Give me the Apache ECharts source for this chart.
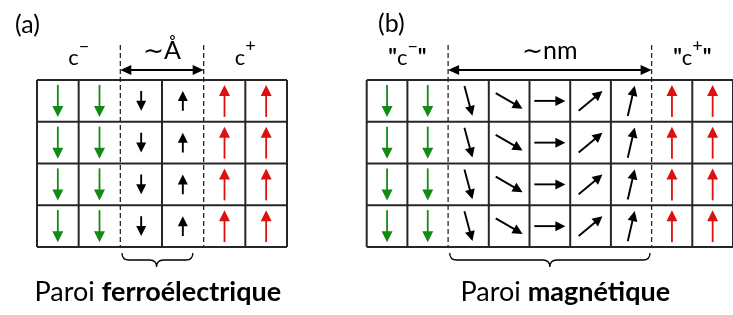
<!DOCTYPE html>
<html><head><meta charset="utf-8">
<script src="https://cdn.jsdelivr.net/npm/echarts@6/dist/echarts.min.js"></script>
<style>html,body{margin:0;padding:0;background:#fff}#c{width:733px;height:315px}</style>
</head><body><div id="c"></div>
<script>
// ---------------- data ----------------
const rowCount = 4;
// (a) ferroelectric wall
const panelADomains = ['minus','minus','wall','wall','plus','plus'];
const panelAAngles = [-90,-90,-90,90,90,90];          // direction of polarisation (deg, 90 = up)
const panelAMagnitudes = [1,1,0.62,0.62,1,1];          // relative length
const panelAWalls = [2,4];                             // column boundaries of the wall
const panelALabels = ['c⁻','∼Å','c⁺'];
const panelABrace = [2.04,3.74,2.87];                  // brace start, end, tip (in cells)
const panelACaptionAt = 2.9;                           // caption centre (in cells)
const panelATitle = '(a)';
const panelABottom = ['Paroi ','ferroélectrique'];
// (b) magnetic wall
const panelBDomains = ['minus','minus','wall','wall','wall','wall','wall','plus','plus'];
const panelBAngles = [-90,-90,-75,-30,0,40,77,90,90];  // direction of magnetisation
const panelBMagnitudes = [1,1,1,1,1,1,1,1,1];
const panelBWalls = [2,7];
const panelBLabels = ['"c⁻"','∼nm','"c⁺"'];
const panelBBrace = [2.04,6.96,4.5];
const panelBCaptionAt = 4.88;
const panelBTitle = '(b)';
const panelBBottom = ['Paroi ','magnétique'];

// ---------------- helpers ----------------
const FONT = 'Lato, "Open Sans", "DejaVu Sans", sans-serif';
const COLORS = {minus:'#138a13', plus:'#dd1010', wall:'#000000'};
const LINE = '#262626';
const mctx = document.createElement('canvas').getContext('2d');
function setFont(size, weight){ mctx.font = (weight||'normal')+' '+size+'px '+FONT; }
function textWidth(s,size,weight){ setFont(size,weight); return mctx.measureText(s).width; }
function midOffset(size,weight){
  setFont(size,weight); const m = mctx.measureText('x');
  if (m.fontBoundingBoxAscent!=null && m.fontBoundingBoxDescent!=null) return (m.fontBoundingBoxAscent-m.fontBoundingBoxDescent)/2;
  return size*0.36;
}
function txt(x, yBase, s, size, weight){
  return {type:'text', style:{x:x, y:yBase-midOffset(size,weight), text:s, fontSize:size, fontWeight:weight||'normal',
    fontFamily:FONT, fill:'#000', align:'left', verticalAlign:'middle', lineHeight:size}};
}
// lay out a label with superscripts centred at cx
function labelEls(str, cx, yBase, size){
  const supMap = {'⁻':'−','⁺':'+'};
  const supSize = Math.round(size*0.8), raise = 13;
  const segs = [];
  for (const ch of str){
    if (supMap[ch]) segs.push({t:supMap[ch], size:supSize, dy:raise, w8:'normal'});
    else if (ch==='"') segs.push({t:ch, size:size, dy:0, w8:'bold'});
    else if (segs.length && !segs[segs.length-1].dy && segs[segs.length-1].w8==='normal') segs[segs.length-1].t += ch;
    else segs.push({t:ch, size:size, dy:0, w8:'normal'});
  }
  segs.forEach(s=>s.w=textWidth(s.t,s.size,s.w8));
  const total = segs.reduce((a,s)=>a+s.w,0);
  let x = cx-total/2; const out=[];
  segs.forEach(s=>{ out.push(txt(x, yBase-s.dy, s.t, s.size, s.w8)); x+=s.w; });
  return out;
}
function arrowEls(cx, cy, deg, len, headL, headW, lw, color){
  const a = deg*Math.PI/180, ux=Math.cos(a), uy=-Math.sin(a);
  const tx=cx-ux*len/2, ty=cy-uy*len/2, hx=cx+ux*len/2, hy=cy+uy*len/2;
  const bx=hx-ux*headL, by=hy-uy*headL, px=-uy, py=ux;
  return [
    {type:'line', shape:{x1:tx,y1:ty,x2:bx+ux,y2:by+uy}, style:{stroke:color,lineWidth:lw}},
    {type:'polygon', shape:{points:[[hx,hy],[bx+px*headW/2,by+py*headW/2],[bx-px*headW/2,by-py*headW/2]]}, style:{fill:color}}
  ];
}

function panelSeries(gi, domains, angles, mags, walls, labels, brace, captionAt, bottom, wallArrowLen){
  const N = domains.length;
  const hData=[]; for(let r=0;r<=rowCount;r++) hData.push([0,r]);
  const vData=[]; for(let c=0;c<=N;c++) if(walls.indexOf(c)<0) vData.push([c,0]);
  const aData=[]; for(let r=0;r<rowCount;r++) for(let c=0;c<N;c++) aData.push([c,r,angles[c],mags[c],c]);
  const common = {type:'custom', xAxisIndex:gi, yAxisIndex:gi, clip:false, silent:true, animation:false};
  return [
    Object.assign({}, common, {data:hData, renderItem:(p,api)=>{
      const a=api.coord([0,api.value(1)]), b=api.coord([N,api.value(1)]);
      return {type:'line', shape:{x1:a[0],y1:a[1],x2:b[0],y2:b[1]}, style:{stroke:LINE,lineWidth:2}};
    }}),
    Object.assign({}, common, {data:vData, renderItem:(p,api)=>{
      const a=api.coord([api.value(0),0]), b=api.coord([api.value(0),rowCount]);
      return {type:'line', shape:{x1:a[0],y1:a[1],x2:b[0],y2:b[1]}, style:{stroke:LINE,lineWidth:2}};
    }}),
    Object.assign({}, common, {data:walls.map(w=>[w,0]), renderItem:(p,api)=>{
      const a=api.coord([api.value(0),0]), b=api.coord([api.value(0),rowCount]);
      return {type:'line', shape:{x1:a[0],y1:a[1]-35,x2:b[0],y2:b[1]}, style:{stroke:LINE,lineWidth:1.3,lineDash:[5,3]}};
    }}),
    Object.assign({}, common, {data:aData, renderItem:(p,api)=>{
      const c=api.coord([api.value(0)+0.5, api.value(1)+0.5]);
      const dom = domains[api.value(4)], col = COLORS[dom];
      const isWall = dom==='wall';
      const len = (isWall?wallArrowLen:32)*api.value(3);
      return {type:'group', children: arrowEls(c[0],c[1],api.value(2),len, isWall?10:11, isWall?10:11, isWall?1.9:1.8, col)};
    }}),
    Object.assign({}, common, {data:[[0,0]], renderItem:(p,api)=>{
      const tl=api.coord([0,0]), br=api.coord([N,rowCount]);
      const top=tl[1], bot=br[1];
      const w1=api.coord([walls[0],0])[0], w2=api.coord([walls[1],0])[0];
      const els=[];
      // double arrow
      const ay=top-10, hl=11, hw=10;
      els.push({type:'line', shape:{x1:w1+hl-1,y1:ay,x2:w2-hl+1,y2:ay}, style:{stroke:'#000',lineWidth:1.8}});
      els.push({type:'polygon', shape:{points:[[w1,ay],[w1+hl,ay-hw/2],[w1+hl,ay+hw/2]]}, style:{fill:'#000'}});
      els.push({type:'polygon', shape:{points:[[w2,ay],[w2-hl,ay-hw/2],[w2-hl,ay+hw/2]]}, style:{fill:'#000'}});
      // top labels
      const regions=[[0,walls[0]],[walls[0],walls[1]],[walls[1],N]];
      labels.forEach((l,i)=>{
        const cx=(api.coord([regions[i][0],0])[0]+api.coord([regions[i][1],0])[0])/2;
        const big = i===1;
        labelEls(l, cx, big?top-19:top-14, big?25:22).forEach(e=>els.push(e));
      });
      // brace
      const x1=api.coord([brace[0],0])[0], x2=api.coord([brace[1],0])[0], xm=api.coord([brace[2],0])[0];
      const yT=bot+6, yM=bot+13, yP=bot+20, r=7;
      els.push({type:'path', shape:{pathData:`M${x1},${yT} Q${x1},${yM} ${x1+r},${yM} L${xm-r},${yM} Q${xm},${yM} ${xm},${yP} Q${xm},${yM} ${xm+r},${yM} L${x2-r},${yM} Q${x2},${yM} ${x2},${yT}`},
        style:{stroke:'#000',lineWidth:1.3,fill:null}});
      // bottom caption
      const fs=27;
      const cxCap=api.coord([captionAt,0])[0];
      const w0=textWidth(bottom[0],fs,'normal'), wb=textWidth(bottom[1],fs,'bold');
      let bx=cxCap-(w0+wb)/2; const by=bot+56;
      els.push(txt(bx,by,bottom[0],fs,'normal'));
      els.push(txt(bx+w0,by,bottom[1],fs,'bold'));
      return {type:'group', children:els};
    }})
  ];
}

const chart = echarts.init(document.getElementById('c'), null, {renderer:'canvas'});
chart.setOption({
  animation:false,
  backgroundColor:'#fff',
  title:[
    {text:panelATitle, left:10, top:7, textStyle:{fontFamily:FONT,fontWeight:'normal',fontSize:25,color:'#000'}},
    {text:panelBTitle, left:373, top:6, textStyle:{fontFamily:FONT,fontWeight:'normal',fontSize:25,color:'#000'}}
  ],
  grid:[
    {left:37, top:80, width:250, height:167},
    {left:366.7, top:80, width:375, height:167}
  ],
  xAxis:[
    {type:'value', gridIndex:0, min:0, max:panelADomains.length, show:false},
    {type:'value', gridIndex:1, min:0, max:panelBDomains.length, show:false}
  ],
  yAxis:[
    {type:'value', gridIndex:0, min:0, max:rowCount, inverse:true, show:false},
    {type:'value', gridIndex:1, min:0, max:rowCount, inverse:true, show:false}
  ],
  series: [].concat(
    panelSeries(0, panelADomains, panelAAngles, panelAMagnitudes, panelAWalls, panelALabels, panelABrace, panelACaptionAt, panelABottom, 32),
    panelSeries(1, panelBDomains, panelBAngles, panelBMagnitudes, panelBWalls, panelBLabels, panelBBrace, panelBCaptionAt, panelBBottom, 31)
  )
});
</script></body></html>
